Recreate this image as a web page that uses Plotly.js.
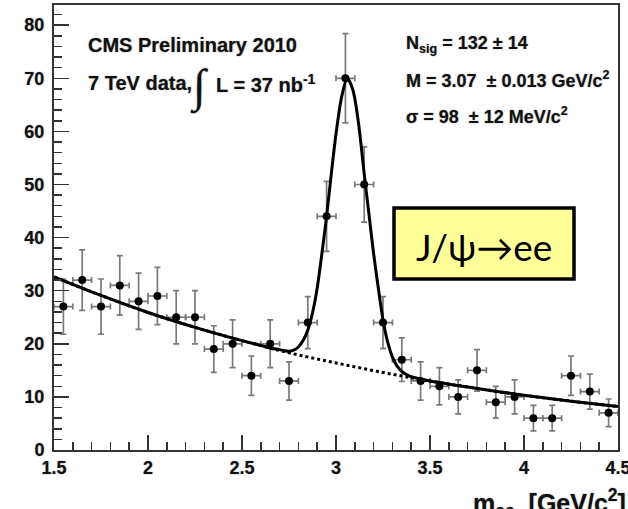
<!DOCTYPE html>
<html>
<head>
<meta charset="utf-8">
<script src="https://cdn.plot.ly/plotly-3.0.1.min.js"></script>
<style>html,body{margin:0;padding:0;background:#fff;}#chart{width:628px;height:509px;}</style>
</head>
<body>
<div id="chart"></div>
<script>
// ---- data ----
const binCenters = [1.55,1.65,1.75,1.85,1.95,2.05,2.15,2.25,2.35,2.45,2.55,2.65,2.75,2.85,2.95,
                    3.05,3.15,3.25,3.35,3.45,3.55,3.65,3.75,3.85,3.95,4.05,4.15,4.25,4.35,4.45];
const events     = [27,32,27,31,28,29,25,25,19,20,14,20,13,24,44,
                    70,50,24,17,13,12,10,15,9,10,6,6,14,11,7];
const eventErr   = [5.2,5.7,5.2,5.6,5.3,5.4,5.0,5.0,4.4,4.5,3.7,4.5,3.6,4.9,6.6,
                    8.4,7.1,4.9,4.1,3.6,3.5,3.2,3.9,3.0,3.2,2.4,2.4,3.7,3.3,2.6];
const binHalfWidth = 0.05;

// total fit (signal + background)
const fitMass  = [1.50,1.75,2.00,2.25,2.50,2.60,2.65,2.70,2.725,2.75,2.775,2.80,2.825,2.85,2.875,2.90,2.925,2.95,2.975,
                  3.00,3.03,3.06,3.09,3.12,3.15,3.175,3.20,3.225,3.25,3.275,3.30,3.325,3.35,3.375,3.40,3.50,3.75,4.00,4.25,4.50];
const fitYield = [32.6,29.1,25.9,23.1,20.6,19.7,19.2,18.9,18.7,18.6,18.8,19.4,20.6,22.6,25.8,30.5,37.0,44.0,52.0,
                  59.5,66.5,70.0,67.8,61.5,52.0,44.5,37.0,30.5,24.5,20.3,17.5,15.8,14.8,14.2,13.8,13.0,11.6,10.3,9.2,8.2];
// background-only component (dotted)
const bkgMass  = [1.50,1.75,2.00,2.25,2.50,2.75,3.00,3.25,3.50,3.75,4.00,4.25,4.50];
const bkgYield = [32.6,29.1,25.9,23.1,20.6,18.3,16.4,14.6,13.0,11.6,10.3,9.2,8.2];

const xRange = [1.5, 4.5];
const yRange = [0, 83.8];

// ---- layout helpers (pixel -> paper) ----
const W = 628, H = 509, mL = 54, mR = 10, mT = 5, mB = 59;
const pw = W - mL - mR, ph = H - mT - mB;
const px = x => (x - mL) / pw;
const py = y => (H - mB - y) / ph;

const ARIAL = 'Liberation Sans, Arial, sans-serif';
const halo = '0px 0px 1.5px rgba(0,0,0,0.45)';
const tickFont = {family: ARIAL, size: 18, weight: 'bold', color: '#111', shadow: halo};

const traces = [
  {
    type: 'scatter', mode: 'markers', x: binCenters, y: events,
    marker: {color: '#000', size: 8},
    error_y: {type: 'data', array: eventErr, visible: true, color: '#7a7a7a', thickness: 1.7, width: 3},
    error_x: {type: 'constant', value: binHalfWidth, visible: true, color: '#7a7a7a', thickness: 1.7, width: 3},
    hoverinfo: 'skip', showlegend: false
  },
  {
    type: 'scatter', mode: 'lines', x: bkgMass, y: bkgYield,
    line: {color: '#000', width: 3, dash: 'dot', shape: 'spline'},
    hoverinfo: 'skip', showlegend: false
  },
  {
    type: 'scatter', mode: 'lines', x: fitMass, y: fitYield,
    line: {color: '#000', width: 3, shape: 'spline', smoothing: 0.8},
    hoverinfo: 'skip', showlegend: false
  }
];

const axisCommon = {
  showgrid: false, zeroline: false,
  showline: true, linecolor: '#333', linewidth: 2, mirror: true,
  ticks: 'inside', tickcolor: '#333', tickwidth: 1.5, ticklen: 15,
  tickfont: tickFont, ticklabeloverflow: 'allow'
};

const ann = (text, x, y, opts) => Object.assign({
  text: text, xref: 'paper', yref: 'paper', x: px(x), y: py(y),
  xanchor: 'left', yanchor: 'middle', showarrow: false,
  font: {family: ARIAL, size: 18, weight: 'bold', color: '#111', shadow: halo}
}, opts || {});

const layout = {
  width: W, height: H,
  margin: {l: mL, r: mR, t: mT, b: mB, pad: 0},
  paper_bgcolor: '#fff', plot_bgcolor: '#fff',
  showlegend: false,
  xaxis: Object.assign({}, axisCommon, {
    range: xRange, dtick: 0.5, tick0: 0,
    minor: {ticks: 'inside', dtick: 0.1, ticklen: 8, tickcolor: '#333', tickwidth: 1.5, showgrid: false}
  }),
  yaxis: Object.assign({}, axisCommon, {
    range: yRange, dtick: 10, tick0: 0, ticklabelstandoff: 4,
    minor: {ticks: 'inside', dtick: 2, ticklen: 8, tickcolor: '#333', tickwidth: 1.5, showgrid: false}
  }),
  shapes: [
    {type: 'rect', xref: 'paper', yref: 'paper',
     x0: px(394), x1: px(574), y0: py(279), y1: py(208),
     fillcolor: '#FFFF99', line: {color: '#000', width: 3.5}, layer: 'above'}
  ],
  annotations: [
    ann('CMS Preliminary 2010', 86, 45, {font: {family: ARIAL, size: 20, weight: 'bold', color: '#111', shadow: halo}}),
    ann('7 TeV data,', 86, 83, {font: {family: ARIAL, size: 20, weight: 'bold', color: '#111', shadow: halo}}),
    ann('∫', 188, 87, {font: {family: 'Liberation Serif, DejaVu Serif, serif', size: 46, color: '#111', shadow: halo}}),
    ann('L = 37 nb<sup>-1</sup>', 214, 83, {font: {family: ARIAL, size: 20, weight: 'bold', color: '#111', shadow: halo}}),
    ann('N<sub>sig</sub> = 132 ± 14', 404, 44),
    ann('M = 3.07  ± 0.013 GeV/c<sup>2</sup>', 404, 80),
    ann('σ = 98  ± 12 MeV/c<sup>2</sup>', 404, 115),
    ann('J/ψ→ee', 484, 246, {xanchor: 'center',
      font: {family: 'Lato, Noto Sans, Open Sans, sans-serif', size: 37, color: '#000'}}),
    ann('m<sub>ee</sub>  [GeV/c<sup>2</sup>]', 628, 503, {xanchor: 'right',
      font: {family: ARIAL, size: 25, weight: 'bold', color: '#111', shadow: halo}})
  ]
};

Plotly.newPlot('chart', traces, layout, {staticPlot: true, displayModeBar: false});
</script>
</body>
</html>
